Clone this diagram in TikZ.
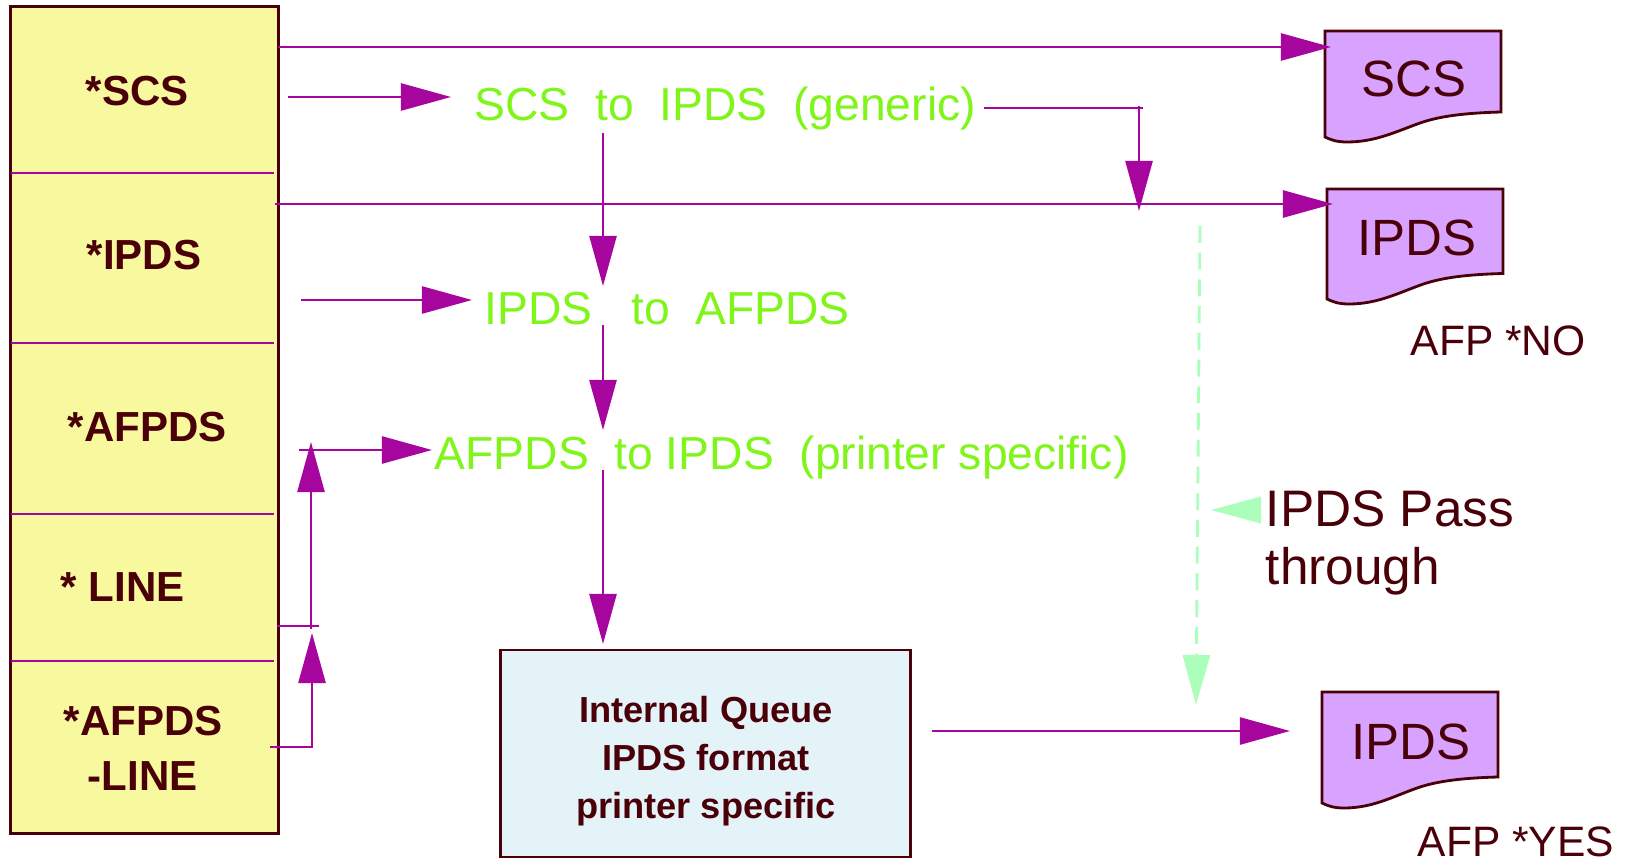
\documentclass[tikz,border=0pt]{standalone}
\usepackage{fontspec}
\setmainfont{Liberation Sans}
\usetikzlibrary{arrows.meta}

\definecolor{flowpurple}{HTML}{A6069E}
\definecolor{inkbrown}{HTML}{4A0008}
\definecolor{boxyellow}{HTML}{F8F89E}
\definecolor{pagelilac}{HTML}{D8A3FF}
\definecolor{queueblue}{HTML}{E3F3F8}
\definecolor{textgreen}{HTML}{7FF51A}
\definecolor{passgreen}{HTML}{ABFFBB}

\tikzset{
    flow/.style={draw=flowpurple, line width=0.7pt, -{Triangle[length=0.5cm,width=0.27cm]}},
    plainline/.style={draw=flowpurple, line width=0.7pt},
    passflow/.style={draw=passgreen, line width=0.8pt, dash pattern=on 4.8pt off 2.8pt, -{Triangle[length=0.5cm,width=0.27cm]}},
    pageshape/.style={draw=inkbrown, fill=pagelilac, line width=0.8pt},
    pagelabel/.style={text=inkbrown, inner sep=0pt, font=\fontsize{14.5}{16}\selectfont},
    inlabel/.style={text=inkbrown, inner sep=0pt, anchor=base west, font=\fontsize{11.95}{14}\selectfont\bfseries},
    convlabel/.style={text=textgreen, inner sep=0pt, anchor=base west, font=\fontsize{13.15}{16}\selectfont},
    afplabel/.style={text=inkbrown, inner sep=0pt, anchor=base west, font=\fontsize{12.1}{14}\selectfont},
}

\begin{document}
\begin{tikzpicture}[x=0.01cm,y=-0.01cm]

\useasboundingbox (0,0) rectangle (1631,861);

\node [draw=inkbrown, fill=boxyellow, line width=0.85pt, minimum width=2.67cm, minimum height=8.26cm, inner sep=0pt] (formats) at (144.5,420) {};

\foreach \y in {173,343,514,661} {
    \draw [plainline] (11,\y) -- (274,\y);
}

\node [inlabel] (scs) at (85,106) {*SCS};
\node [inlabel] (ipds) at (86,270) {*IPDS};
\node [inlabel] (afpds) at (67,441) {*AFPDS};
\node [inlabel] (line) at (60,601) {* LINE};
\node [inlabel] (afpdsline) at (63,735) {*AFPDS};
\node [inlabel] (dashline) at (87,790) {-LINE};

% printer data streams
\foreach \x/\y/\hr/\hl/\name/\txt/\tx/\ty in {1325/31/81/106/pscs/SCS/89/48, 1327/189/84.5/110/pipds/IPDS/90/49, 1322/692/85/111/pafp/IPDS/89/50} {
    \draw [pageshape] (\x,\y) -- (\x+176,\y) -- (\x+176,\y+\hr)
        .. controls (\x+140,\y+\hr+1) and (\x+115,\y+\hr+4) .. (\x+95,\y+\hr+11)
        .. controls (\x+70,\y+\hr+20) and (\x+50,\y+\hl+5) .. (\x+22,\y+\hl+5)
        .. controls (\x+12,\y+\hl+5) and (\x+6,\y+\hl+3) .. (\x,\y+\hl)
        -- cycle;
    \node [pagelabel] (\name) at (\x+\tx,\y+\ty) {\txt};
}

\node [afplabel] (afpno) at (1410,355) {AFP *NO};
\node [afplabel] (afpyes) at (1417,856) {AFP *YES};

\node [convlabel] (scsconv) at (474,121) {SCS\ \ to\ \ IPDS\ \ (generic)};
\node [convlabel] (ipdsconv) at (484,325) {IPDS\ \ \ to\ \ AFPDS};
\node [convlabel] (afpconv) at (434,469) {AFPDS\ \ to IPDS\ \ (printer specific)};

\node [draw=inkbrown, fill=queueblue, line width=0.8pt, minimum width=4.09cm, minimum height=2.07cm, inner sep=0pt] (queue) at (705.5,753.5) {};
\node [text=inkbrown, inner sep=0pt, align=center, font=\fontsize{10.3}{13.6}\selectfont\bfseries] (queuetext) at (706,761) {Internal Queue\\IPDS format\\printer specific};

\node [text=inkbrown, inner sep=0pt, anchor=west, align=left, font=\fontsize{14.6}{16.4}\selectfont] (pass) at (1265,543) {IPDS Pass\\through};

\coordinate (scsout) at (278,47);
\coordinate (scstip) at (1331,47);
\coordinate (ipdsout) at (275,204);
\coordinate (ipdstip) at (1333,204);
\coordinate (scsin) at (288,97);
\coordinate (scsintip) at (451,97);
\coordinate (ipdsin) at (301,300);
\coordinate (ipdsintip) at (472,300);
\coordinate (afpin) at (299,450);
\coordinate (afpintip) at (432,450);
\coordinate (genout) at (984,108);
\coordinate (genend) at (1143,108);
\coordinate (gencorner) at (1139,106);
\coordinate (gentip) at (1139,211);
\coordinate (downa) at (603,133);
\coordinate (downatip) at (603,286);
\coordinate (downb) at (603,325);
\coordinate (downbtip) at (603,430);
\coordinate (downc) at (603,470);
\coordinate (downctip) at (603,644);
\coordinate (linestart) at (277,626);
\coordinate (lineend) at (319,626);
\coordinate (linefoot) at (311,629);
\coordinate (linetip) at (311,442);
\coordinate (mixstart) at (270,747);
\coordinate (mixcorner) at (312,747);
\coordinate (mixtip) at (312,633);
\coordinate (queueout) at (932,731);
\coordinate (queuetip) at (1290,731);
\coordinate (passtop) at (1200,226);
\coordinate (passtip) at (1196,705);
\coordinate (passlabel) at (1261,510);
\coordinate (passlabeltip) at (1211,510);

\draw [flow] (scsout) -- (scstip);
\draw [flow] (ipdsout) -- (ipdstip);
\draw [flow] (scsin) -- (scsintip);
\draw [flow] (ipdsin) -- (ipdsintip);
\draw [flow] (afpin) -- (afpintip);
\draw [plainline] (genout) -- (genend);
\draw [flow] (gencorner) -- (gentip);
\draw [flow] (downa) -- (downatip);
\draw [flow] (downb) -- (downbtip);
\draw [flow] (downc) -- (downctip);
\draw [plainline] (linestart) -- (lineend);
\draw [flow] (linefoot) -- (linetip);
\draw [flow] (mixstart) -- (mixcorner) -- (mixtip);
\draw [flow] (queueout) -- (queuetip);

% pass through
\draw [passflow] (passtop) -- (passtip);
\draw [draw=none, fill=passgreen] (passlabel) ++(0,-13.5) -- (passlabeltip) -- ++(50,13.5) -- cycle;

\end{tikzpicture}
\end{document}
